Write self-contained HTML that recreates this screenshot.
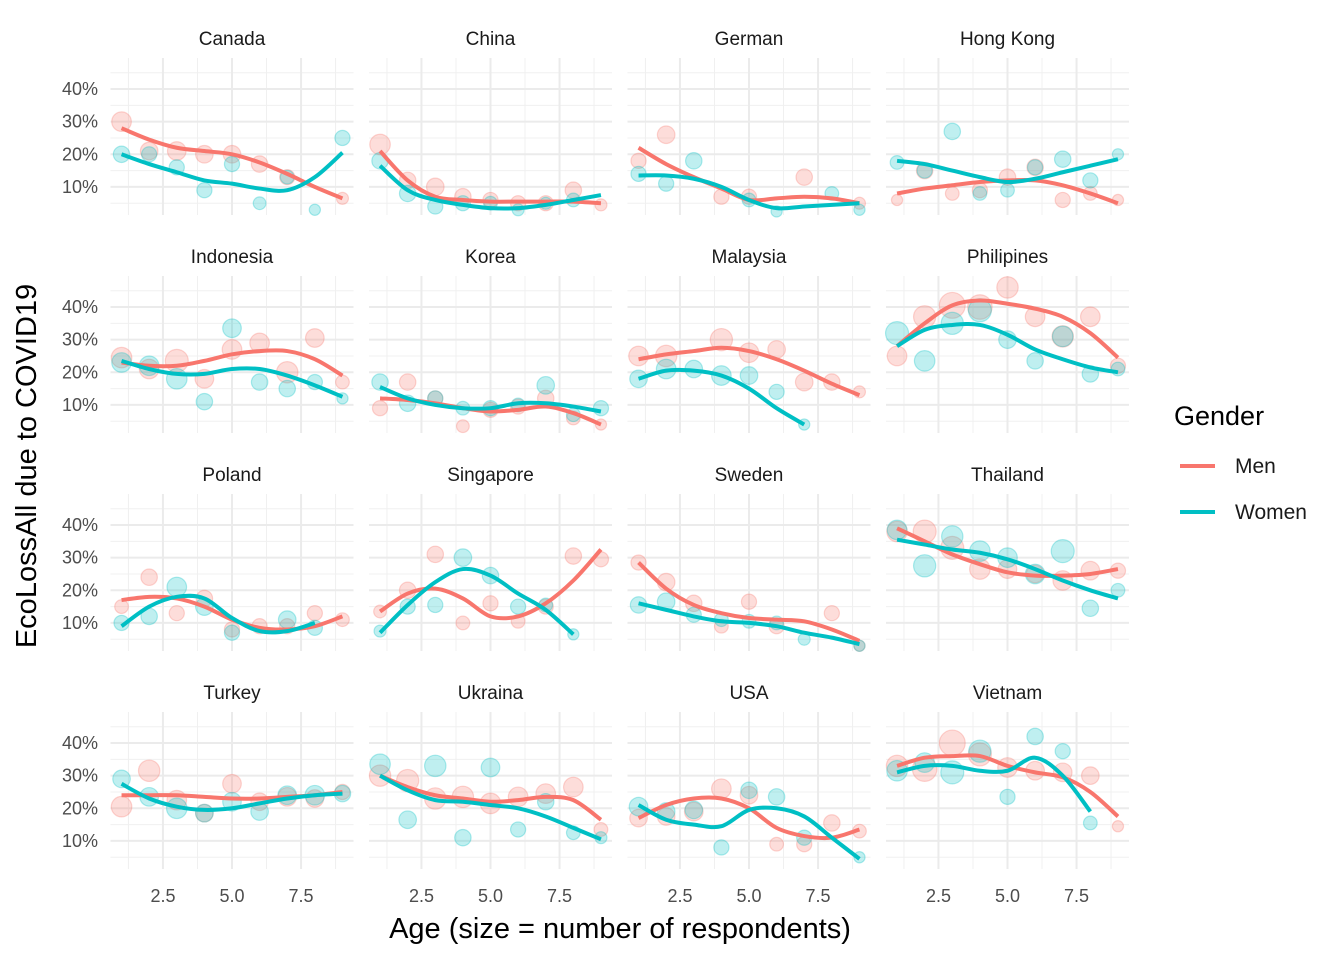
<!DOCTYPE html>
<html><head><meta charset="utf-8"><style>
html,body{margin:0;padding:0;background:#fff;}
svg{display:block;font-family:"Liberation Sans",sans-serif;}
</style></head><body>
<svg id="chart" width="1344" height="960"></svg>
<script>
const countries=["Canada","China","German","Hong Kong","Indonesia","Korea","Malaysia","Philipines","Poland","Singapore","Sweden","Thailand","Turkey","Ukraina","USA","Vietnam"];
const ages=[1,2,3,4,5,6,7,8,9];
const menPts=[[30,21,21,20,20,17,13,null,6.5],[23,12,10,7,6,5,5,9,4.5],[18,26,null,7,7,null,13,null,5],[6,15,8,9,13,16,6,8,6],
[24.5,21,23.5,18,27,29,20,30.5,17],[9,17,12,3.5,8.5,9.5,12,6,4],[25,25,null,30,26,27,17,17,14],[25,37,40.5,40,46,37,31,37,22],
[15,24,13,17.5,8,9,9,13,11],[13.5,20,31,10,16,10.5,15,30.5,29.5],[28.5,22.5,16,9,16.5,9,null,13,3],[38,38,33,26.5,26.5,25,23,26,26],
[20.5,31.5,22.5,18.5,27.5,22,23.5,23,25],[30,28.5,23,23.5,21.5,23.5,24.5,26.5,13.5],[17,17.5,19,26,24,9,9,15.5,13],[33,32,40,36.5,32.5,31.5,31,30,14.5]];
const womenPts=[[20,20,16,9,17,5,13,3,25],[18,8,4,5,5,3,5,6,null],[14,11,18,null,6,2.5,null,8,3],[17.5,15,27,8,9,16,18.5,12,20],
[23,22,18,11,33.5,17,15,17,12],[17,10.5,12,9,9,10,16,7,9],[18,21,21,19,19,14,4,null,null],[32,23.5,35,39,30,23.5,31,19.5,21],
[10,12,21,15,7,null,11,8.5,null],[7.5,15,15.5,30,24.5,15,15.5,6.5,null],[15.5,16.5,12.5,11,10.5,10,5,null,3],[38.5,27.5,36.5,32,30,25,32,14.5,20],
[29,23.5,20,18.5,22,19,24,24,24.5],[33.5,16.5,33,11,32.5,13.5,22,12.5,11],[20.5,19,19.5,8,25.5,23.5,11,null,5],[31.5,34,31,37.5,23.5,42,37.5,15.5,null]];
const menSize=[[40,30,35,30,30,25,20,10,10],[45,25,30,25,20,20,20,25,10],[20,30,10,20,20,10,25,10,10],[8,25,15,20,25,25,20,15,8],
[45,40,60,35,40,40,50,35,15],[20,25,20,12,20,20,25,15,8],[40,50,40,55,40,30,30,25,10],[40,55,80,70,50,40,50,40,20],
[15,25,20,25,20,20,20,20,15],[12,25,25,15,20,15,20,25,20],[20,30,25,15,20,20,10,20,8],[45,60,60,45,35,30,40,35,20],
[45,50,40,30,35,30,35,30,20],[50,55,50,50,45,40,40,40,15],[30,30,35,40,30,15,20,25,15],[50,70,80,60,40,35,35,30,8]];
const womenSize=[[25,20,20,20,20,12,15,8,20],[25,25,20,20,15,10,10,15,10],[20,20,25,10,15,8,10,15,8],[15,20,25,15,15,20,25,20,8],
[40,40,45,25,35,25,25,20,8],[25,25,20,15,20,15,30,15,20],[30,40,30,40,30,20,8,10,10],[60,45,55,60,30,25,45,25,15],
[20,25,40,30,20,10,30,20,10],[10,20,20,30,25,20,15,8,10],[25,30,20,15,15,15,10,10,8],[40,55,50,45,40,40,60,25,15],
[30,35,45,30,35,30,35,40,25],[45,30,50,25,35,20,25,15,10],[35,30,30,20,25,25,20,10,8],[45,40,60,55,20,25,20,15,10]];
const menLine=[[28,24.5,22,21,20,17.5,14,10,6.5],[21,12,7,6,5.5,5.5,5.5,5.5,5],[22,17,13,9.5,6,6.5,7,6.5,5],[8,9.5,10.5,11.5,12,12,10.5,8,5],
[23,22,22,23.5,25.5,26.5,26.5,24,19],[12,11.5,10.5,9,8,8.5,9.5,7.5,4],[24,25.5,26.5,27.5,26.5,24,20.5,16.5,13],[28,35,40.5,42,41,39.5,37,32,24.5],
[17,18,17.5,15,11,8.5,8,9,12],[13.5,19,20.5,17.5,12,12,16,23,32.5],[28.5,20.5,15.5,13,11.5,11,10.5,8,4.5],[39,35,31,28,25.5,24.5,24.5,25,26.5],
[24,24,24,23.5,23,23,23.5,24,25],[30,26.5,24,23,22,22.5,23.5,22.5,16.5],[17,21,23,23,20,14,11.5,11,13.5],[33,35.5,36,36,33,31,29.5,25,17.5]];
const womenLine=[[20,17,14.5,12,11,9.5,9,13,20.5],[16.5,9,6,4.5,3.5,3.5,4.5,6,7.5],[13.5,13.5,12.5,10,6,3.5,4,4.5,5],[18,17,15,13,11.5,12.5,14.5,16.5,18.5],
[23.5,21,19.5,19.5,21,21,19,16,12.5],[15.5,12,10,9,9,10.5,10.5,9.5,8],[18,20.5,20.5,19,15,9,4,null,null],[28,33,34.5,34.5,31.5,27,24,21.5,20],
[9,15,18,17.5,11.5,7.5,7.5,10,null],[7,15.5,22.5,26.5,24.5,19,14,6.5,null],[16,14,12,10.5,10,9,7,5.5,3.5],[35.5,34,32.5,31.5,29.5,26.5,23,20,17.5],
[27.5,23,20.5,19.5,20,21.5,23,24,24.5],[30,25.5,22.5,22,21,20,17.5,14,10.5],[21,16.5,15,14.5,19.5,20,17.5,11,4.5],[31,33,33,31.5,31.5,35.5,30,19,null]];
const yTicks=[10,20,30,40];
const xTicks=[2.5,5,7.5];

const NS="http://www.w3.org/2000/svg";
const svg=document.getElementById('chart');
function mk(tag,attrs,parent){const e=document.createElementNS(NS,tag);for(const k in attrs)e.setAttribute(k,attrs[k]);(parent||svg).appendChild(e);return e;}
const panelW=243,panelH=157,colX=[110.5,369,627.5,886],rowY=[58,276,494,712];
function xs(c,v){return colX[c]+(v-0.6)/(8.8)*panelW;}
function ys(r,v){return rowY[r]+(49.5-v)/(48.1)*panelH;}
function catmull(p){let d="M"+p[0][0]+","+p[0][1];for(let i=0;i<p.length-1;i++){const p0=p[i-1]||p[i],p1=p[i],p2=p[i+1],p3=p[i+2]||p2;
d+=" C"+(p1[0]+(p2[0]-p0[0])/6)+","+(p1[1]+(p2[1]-p0[1])/6)+" "+(p2[0]-(p3[0]-p1[0])/6)+","+(p2[1]-(p3[1]-p1[1])/6)+" "+p2[0]+","+p2[1];}return d;}
const MEN="#F8766D",WOM="#00BFC4";
countries.forEach((name,i)=>{
 const r=Math.floor(i/4),c=i%4;
 const g=mk('g',{});
 
 
 [1.25,3.75,6.25,8.75].forEach(v=>mk('line',{x1:xs(c,v),x2:xs(c,v),y1:rowY[r],y2:rowY[r]+panelH,stroke:'#f0f0f0','stroke-width':1},g));
 [5,15,25,35,45].forEach(v=>mk('line',{x1:colX[c],x2:colX[c]+panelW,y1:ys(r,v),y2:ys(r,v),stroke:'#f0f0f0','stroke-width':1},g));
 xTicks.forEach(v=>mk('line',{x1:xs(c,v),x2:xs(c,v),y1:rowY[r],y2:rowY[r]+panelH,stroke:'#ebebeb','stroke-width':2},g));
 yTicks.forEach(v=>mk('line',{x1:colX[c],x2:colX[c]+panelW,y1:ys(r,v),y2:ys(r,v),stroke:'#ebebeb','stroke-width':2},g));
 const st=mk('text',{x:colX[c]+panelW/2,y:rowY[r]-13,'text-anchor':'middle','font-size':19,fill:'#1a1a1a'},g);st.textContent=name;
 
 
 if(c===0) yTicks.forEach(v=>{const t=mk('text',{x:98,y:ys(r,v)+6,'text-anchor':'end','font-size':18,fill:'#4d4d4d'},g);t.textContent=v+'%';});
 if(r===3) xTicks.forEach(v=>{const t=mk('text',{x:xs(c,v),y:rowY[r]+panelH+33,'text-anchor':'middle','font-size':18,fill:'#4d4d4d'},g);t.textContent=v.toFixed(1);});
 [[menPts,menSize,MEN],[womenPts,womenSize,WOM]].forEach(([P,S,col])=>{
  ages.forEach((a,k)=>{const v=P[i][k];if(v==null)return;
   const b=mk('circle',{cx:xs(c,a),cy:ys(r,v),r:2.2+Math.sqrt(S[i][k])*1.2,fill:col,'fill-opacity':0.25,stroke:col,'stroke-opacity':0.3,'stroke-width':1.2},g);
   
   });
 });
 [[menLine,MEN],[womenLine,WOM]].forEach(([L,col])=>{
  const pts=[];ages.forEach((a,k)=>{const v=L[i][k];if(v!=null)pts.push([xs(c,a),ys(r,v)]);});
  const p=mk('path',{d:catmull(pts),fill:'none',stroke:col,'stroke-width':4},g);
  
  
 });
});
let t=mk('text',{x:620,y:938,'text-anchor':'middle','font-size':29,fill:'#000'});t.textContent='Age (size = number of respondents)';

t=mk('text',{x:0,y:0,'text-anchor':'middle','font-size':29,fill:'#000',transform:'translate(36,466) rotate(-90)'});t.textContent='EcoLossAll due to COVID19';

const lg=mk('g',{});
t=mk('text',{x:1174,y:425,'font-size':27,fill:'#000'},lg);t.textContent='Gender';
[['Men',MEN,466],['Women',WOM,512]].forEach(([n,col,y])=>{
 const e=mk('g',{},lg);
 mk('line',{x1:1180,x2:1215,y1:y,y2:y,stroke:col,'stroke-width':4},e);
 const tt=mk('text',{x:1235,y:y+7,'font-size':21,fill:'#1a1a1a'},e);tt.textContent=n;});
</script>
</body></html>
